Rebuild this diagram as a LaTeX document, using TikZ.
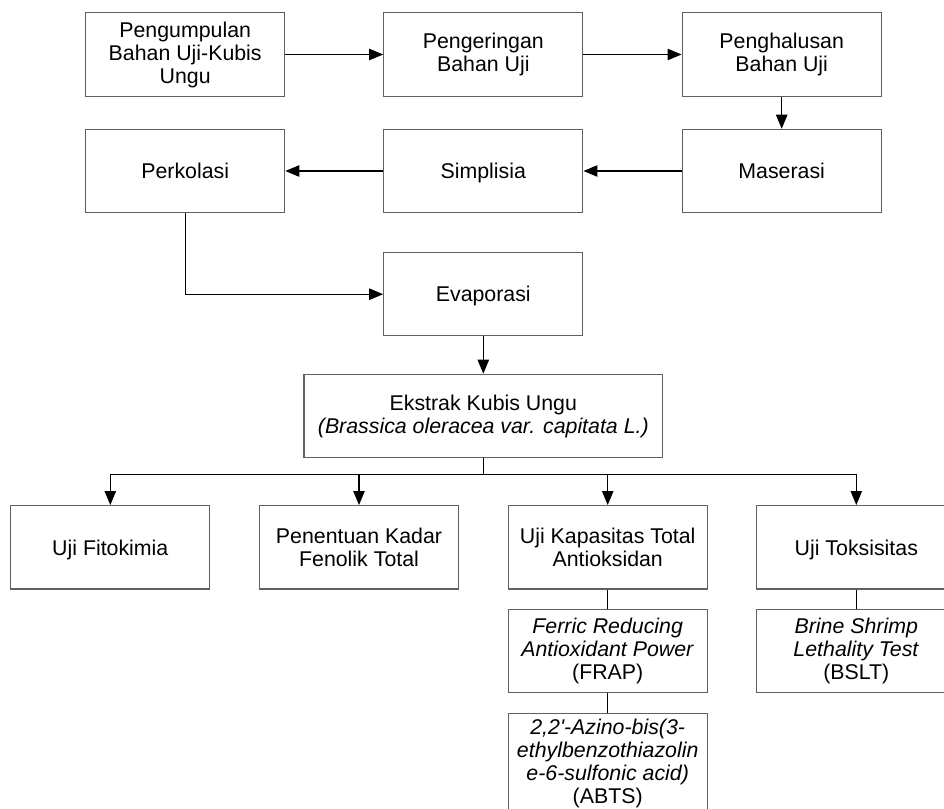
\documentclass[tikz,border=0pt]{standalone}
\usepackage{fontspec}
\setmainfont{Liberation Sans}
\usetikzlibrary{arrows.meta}

\begin{document}
\begin{tikzpicture}[x=0.75pt,y=0.75pt,yscale=-1,xscale=1,
  proses/.style={draw={rgb, 255:red, 96; green, 96; blue, 96 },line width=0.9pt,minimum width=149.25pt,minimum height=62.5pt,align=center,inner sep=2pt,font=\fontsize{16}{17.25}\selectfont},
  tunggal/.style={text depth=0pt},
  panah/.style={line width=1pt,-{Triangle[length=10.5pt,width=8.5pt]}},
  garis/.style={line width=1pt}]
\useasboundingbox (0,0) rectangle (944,808);

%Baris 1
\node[proses] (kumpul) at (185.2,54.5) {Pengumpulan\\Bahan Uji-Kubis\\Ungu};
\node[proses] (kering) at (483.3,54.5) {Pengeringan\\Bahan Uji};
\node[proses] (halus) at (781.7,54.5) {Penghalusan\\Bahan Uji};
%Baris 2
\node[proses,tunggal] (perkolasi) at (185.2,171) {Perkolasi};
\node[proses,tunggal] (simplisia) at (483.3,171) {Simplisia};
\node[proses,tunggal] (maserasi) at (781.7,171) {Maserasi};
%Evaporasi dan ekstrak
\node[proses,tunggal] (evaporasi) at (483.3,294.2) {Evaporasi};
\node[proses,minimum width=269pt] (ekstrak) at (483.3,416) {Ekstrak Kubis Ungu\\\textit{(Brassica oleracea var. capitata L.)}};
\coordinate (cabang) at (483.3,474.3);
%Baris uji
\node[proses,tunggal] (fitokimia) at (110.3,547.3) {Uji Fitokimia};
\node[proses] (fenolik) at (359,547.3) {Penentuan Kadar\\Fenolik Total};
\node[proses] (antioksidan) at (607.7,547.3) {Uji Kapasitas Total\\Antioksidan};
\node[proses,tunggal] (toksisitas) at (856.3,547.3) {Uji Toksisitas};
%Metode
\node[proses] (frap) at (607.7,651) {\textit{Ferric Reducing}\\\textit{Antioxidant Power}\\(FRAP)};
\node[proses] (bslt) at (856.3,651) {\textit{Brine Shrimp}\\\textit{Lethality Test}\\(BSLT)};
\node[proses,minimum height=74.5pt] (abts) at (607.7,763) {\textit{2,2\textquotesingle-Azino-bis(3-}\\\textit{ethylbenzothiazolin}\\\textit{e-6-sulfonic acid)}\\(ABTS)};

%Panah alur
\draw[panah] (kumpul) -- (kering);
\draw[panah] (kering) -- (halus);
\draw[panah] (halus) -- (maserasi);
\draw[panah] (maserasi) -- (simplisia);
\draw[panah] (simplisia) -- (perkolasi);
\draw[panah] (perkolasi.south) |- (evaporasi.west);
\draw[panah] (evaporasi) -- (ekstrak);
\draw[garis] (ekstrak.south) -- (cabang);
\foreach \anak in {fitokimia,fenolik,antioksidan,toksisitas}
  \draw[panah] (cabang) -| (\anak.north);
%Garis metode
\draw[garis] (antioksidan) -- (frap);
\draw[garis] (frap) -- (abts);
\draw[garis] (toksisitas) -- (bslt);

\end{tikzpicture}
\end{document}
